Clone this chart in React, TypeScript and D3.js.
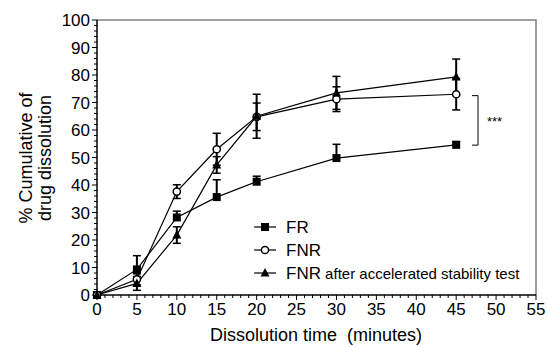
import { useEffect, useRef } from "react";
import * as d3 from "d3";

const times = [0, 5, 10, 15, 20, 30, 45];

const frValues = [0, 9.3, 28.2, 35.6, 41.2, 49.8, 54.6];
const frErrUp = [0, 5, 2.3, 6.3, 2, 5, 1.2];
const frErrDown = [0, 0, 0, 0, 0, 0, 0];

const fnrValues = [0, 5.7, 37.6, 53, 64.8, 71.2, 73];
const fnrErr = [0, 2, 2.5, 5.8, 5, 4.5, 5.7];

const fnrStabValues = [0, 4.2, 21.8, 47.3, 65, 73.5, 79.3];
const fnrStabErr = [0, 2.5, 3, 3, 8, 6, 6.5];

const xTicks = [0, 5, 10, 15, 20, 25, 30, 35, 40, 45, 50, 55];
const yTicks = [0, 10, 20, 30, 40, 50, 60, 70, 80, 90, 100];

const legendLabels = ["FR", "FNR", "FNR"];
const FONT = "Arial, 'Liberation Sans', sans-serif";

export default function App() {
  const svgRef = useRef<SVGSVGElement>(null);

  useEffect(() => {
    const svg = d3.select(svgRef.current);
    svg.selectAll("*").remove();

    const x = d3.scaleLinear().domain([0, 55]).range([97, 536]);
    const y = d3.scaleLinear().domain([0, 100]).range([295, 20]);

    // frame (top + right)
    svg.append("path")
      .attr("d", `M${x(0)},${y(100)}H${x(55)}V${y(0)}`)
      .attr("fill", "none").attr("stroke", "#808080").attr("stroke-width", 1.5);

    // y axis
    const gy = svg.append("g").attr("transform", `translate(${x(0)},0)`);
    gy.append("line").attr("y1", y(0)).attr("y2", y(100)).attr("stroke", "#000").attr("stroke-width", 1.5);
    gy.selectAll(".ym").data(d3.range(0, 101, 2)).enter().append("line")
      .attr("x1", d => (d % 10 === 0 ? -5 : -3)).attr("x2", 0)
      .attr("y1", d => y(d)).attr("y2", d => y(d))
      .attr("stroke", "#000").attr("stroke-width", 1);
    gy.selectAll(".yl").data(yTicks).enter().append("text")
      .attr("x", -7).attr("y", d => y(d)).attr("dy", "0.36em")
      .attr("text-anchor", "end").attr("font-family", FONT).attr("font-size", 17)
      .text(d => d);

    // x axis
    const gx = svg.append("g").attr("transform", `translate(0,${y(0)})`);
    gx.append("line").attr("x1", x(0)).attr("x2", x(55)).attr("stroke", "#000").attr("stroke-width", 1.5);
    gx.selectAll(".xm").data(d3.range(0, 56, 1)).enter().append("line")
      .attr("x1", d => x(d)).attr("x2", d => x(d))
      .attr("y1", 0).attr("y2", d => (d % 5 === 0 ? 5 : 3))
      .attr("stroke", "#000").attr("stroke-width", 1);
    gx.selectAll(".xl").data(xTicks).enter().append("text")
      .attr("x", d => x(d)).attr("y", 20)
      .attr("text-anchor", "middle").attr("font-family", FONT).attr("font-size", 17)
      .text(d => d);

    // axis titles
    svg.append("text").attr("x", 316).attr("y", 341)
      .attr("text-anchor", "middle").attr("font-family", FONT).attr("font-size", 18)
      .attr("xml:space", "preserve")
      .text("Dissolution time  (minutes)");
    const yt = svg.append("text")
      .attr("transform", "translate(32,158) rotate(-90)")
      .attr("text-anchor", "middle").attr("font-family", FONT).attr("font-size", 18);
    yt.append("tspan").attr("x", 0).attr("y", 0).text("% Cumulative of");
    yt.append("tspan").attr("x", 0).attr("y", 19).text("drug dissolution");

    const line = d3.line<number>().x((_, i) => x(times[i])).y(d => y(d));

    const series = [
      { vals: frValues, up: frErrUp, down: frErrDown, sym: "square" },
      { vals: fnrValues, up: fnrErr, down: fnrErr, sym: "circle" },
      { vals: fnrStabValues, up: fnrStabErr, down: fnrStabErr, sym: "triangle" },
    ];

    const drawMarker = (g: any, sym: string, cx: number, cy: number) => {
      if (sym === "square") {
        g.append("rect").attr("x", cx - 4).attr("y", cy - 4).attr("width", 8).attr("height", 8).attr("fill", "#000");
      } else if (sym === "circle") {
        g.append("circle").attr("cx", cx).attr("cy", cy).attr("r", 3.6)
          .attr("fill", "#fff").attr("stroke", "#000").attr("stroke-width", 1.5);
      } else {
        g.append("path").attr("d", `M${cx},${cy - 5}L${cx + 4.5},${cy + 3.5}L${cx - 4.5},${cy + 3.5}Z`).attr("fill", "#000");
      }
    };

    // lines
    series.forEach(s => {
      svg.append("path").attr("d", line(s.vals)).attr("fill", "none").attr("stroke", "#000").attr("stroke-width", 1.2);
    });

    // error bars
    series.forEach(s => {
      const g = svg.append("g").attr("stroke", "#000").attr("stroke-width", 1.5);
      s.vals.forEach((v, i) => {
        const cx = x(times[i]);
        const top = y(v + s.up[i]);
        const bot = y(v - s.down[i]);
        if (s.up[i] === 0 && s.down[i] === 0) return;
        g.append("line").attr("x1", cx).attr("x2", cx).attr("y1", top).attr("y2", bot).attr("stroke-width", 2);
        if (s.up[i] > 0) g.append("line").attr("x1", cx - 4).attr("x2", cx + 4).attr("y1", top).attr("y2", top);
        if (s.down[i] > 0) g.append("line").attr("x1", cx - 4).attr("x2", cx + 4).attr("y1", bot).attr("y2", bot);
      });
    });

    // markers
    series.forEach(s => {
      const g = svg.append("g");
      s.vals.forEach((v, i) => drawMarker(g, s.sym, x(times[i]), y(v)));
    });

    // significance bracket
    const bx = 478;
    svg.append("path")
      .attr("d", `M${bx - 6},${y(72.5)}H${bx}V${y(54.5)}H${bx - 6}`)
      .attr("fill", "none").attr("stroke", "#000").attr("stroke-width", 1);
    svg.append("text").attr("x", 487).attr("y", y(63.5) + 6)
      .attr("font-family", FONT).attr("font-size", 13).text("***");

    // legend
    const lg = svg.append("g");
    series.forEach((s, i) => {
      const ly = 227 + i * 23;
      lg.append("line").attr("x1", 254).attr("x2", 276).attr("y1", ly).attr("y2", ly)
        .attr("stroke", "#000").attr("stroke-width", 1.2);
      drawMarker(lg, s.sym, 265, ly);
      const t = lg.append("text").attr("x", 286).attr("y", ly + 6)
        .attr("font-family", FONT).attr("font-size", 17);
      t.append("tspan").text(legendLabels[i]);
      if (i === 2) t.append("tspan").attr("font-size", 15).text(" after accelerated stability test");
    });
  }, []);

  return (
    <svg ref={svgRef} width={547} height={347}
      style={{ position: "absolute", left: 0, top: 0, background: "#fff" }} />
  );
}
